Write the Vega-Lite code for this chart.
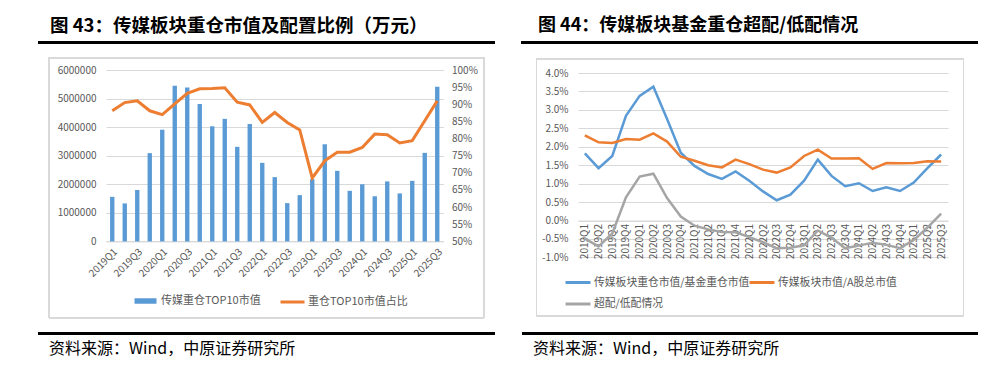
{
  "$schema": "https://vega.github.io/schema/vega-lite/v6.json",
  "background": "white",
  "padding": {"left": 36, "top": 0, "right": 0, "bottom": 0},
  "spacing": 22,
  "resolve": {"scale": {"color": "independent", "fill": "independent", "stroke": "independent", "x": "independent", "y": "independent"}, "legend": {"color": "independent", "fill": "independent", "stroke": "independent"}},
  "config": {
    "view": {"stroke": null},
    "font": "Noto Sans CJK SC",
    "axis": {"labelColor": "#595959", "labelFontSize": 10, "ticks": false, "domain": false, "gridColor": "#D9D9D9", "title": null, "labelFont": "Noto Sans CJK SC"},
    "legend": {"labelFont": "Noto Sans CJK SC", "labelColor": "#595959", "title": null, "padding": 0, "labelLimit": 400}
  },
  "hconcat": [
    {
      "spacing": 0,
      "resolve": {"scale": {"color": "independent", "fill": "independent", "stroke": "independent", "x": "independent", "y": "independent"}, "legend": {"color": "independent", "fill": "independent", "stroke": "independent"}},
      "vconcat": [
        {
          "width": 337.5, "height": 56.5,
          "data": {"values": [{"t": "图 43：传媒板块重仓市值及配置比例（万元）"}]},
          "layer": [
            {"mark": {"type": "text", "align": "left", "baseline": "middle", "fontSize": 18.5, "fontWeight": "bold", "color": "#000000"},
             "encoding": {"text": {"field": "t"},
               "x": {"datum": -56, "type": "quantitative", "scale": {"domain": [0, 337.5], "nice": false, "zero": false}, "axis": null},
               "y": {"datum": 26, "type": "quantitative", "scale": {"domain": [0, 56.5], "nice": false, "reverse": true}, "axis": null}}},
            {"mark": {"type": "rule", "strokeWidth": 3, "color": "#000000"},
             "encoding": {
               "x": {"datum": -68, "type": "quantitative"}, "x2": {"datum": 389},
               "y": {"datum": 42.5, "type": "quantitative"}}}
          ]
        },
        {
          "width": 337.5, "height": 171.4,
          "data": {"values": [
            {"q": "2019Q1", "mv": 1560000, "ratio": 0.881},
            {"q": "2019Q2", "mv": 1330000, "ratio": 0.905},
            {"q": "2019Q3", "mv": 1800000, "ratio": 0.910},
            {"q": "2019Q4", "mv": 3090000, "ratio": 0.881},
            {"q": "2020Q1", "mv": 3910000, "ratio": 0.870},
            {"q": "2020Q2", "mv": 5450000, "ratio": 0.901},
            {"q": "2020Q3", "mv": 5390000, "ratio": 0.932},
            {"q": "2020Q4", "mv": 4810000, "ratio": 0.945},
            {"q": "2021Q1", "mv": 4030000, "ratio": 0.946},
            {"q": "2021Q2", "mv": 4290000, "ratio": 0.948},
            {"q": "2021Q3", "mv": 3310000, "ratio": 0.906},
            {"q": "2021Q4", "mv": 4110000, "ratio": 0.898},
            {"q": "2022Q1", "mv": 2750000, "ratio": 0.847},
            {"q": "2022Q2", "mv": 2250000, "ratio": 0.876},
            {"q": "2022Q3", "mv": 1340000, "ratio": 0.847},
            {"q": "2022Q4", "mv": 1620000, "ratio": 0.825},
            {"q": "2023Q1", "mv": 2180000, "ratio": 0.685},
            {"q": "2023Q2", "mv": 3400000, "ratio": 0.735},
            {"q": "2023Q3", "mv": 2470000, "ratio": 0.760},
            {"q": "2023Q4", "mv": 1770000, "ratio": 0.760},
            {"q": "2024Q1", "mv": 2000000, "ratio": 0.774},
            {"q": "2024Q2", "mv": 1580000, "ratio": 0.813},
            {"q": "2024Q3", "mv": 2100000, "ratio": 0.811},
            {"q": "2024Q4", "mv": 1680000, "ratio": 0.787},
            {"q": "2025Q1", "mv": 2120000, "ratio": 0.794},
            {"q": "2025Q2", "mv": 3100000, "ratio": 0.852},
            {"q": "2025Q3", "mv": 5410000, "ratio": 0.910}
          ]},
          "layer": [
            {"mark": {"type": "rect", "filled": false, "stroke": "#D9D9D9", "strokeWidth": 1},
             "encoding": {
               "x": {"datum": -57, "type": "quantitative", "scale": {"domain": [0, 337.5], "nice": false, "zero": false}, "axis": null},
               "x2": {"datum": 378},
               "y": {"datum": -12.3, "type": "quantitative", "scale": {"domain": [0, 171.4], "nice": false, "zero": false, "reverse": true}, "axis": null},
               "y2": {"datum": 247.7}}},
            {"mark": {"type": "bar", "color": "#5B9BD5"},
             "encoding": {
               "x": {"field": "q", "type": "ordinal", "scale": {"paddingInner": 0.65, "paddingOuter": 0.325},
                 "axis": {"labelAngle": -45, "labelPadding": 5, "domain": true, "domainColor": "#D9D9D9", "grid": false,
                   "values": ["2019Q1","2019Q3","2020Q1","2020Q3","2021Q1","2021Q3","2022Q1","2022Q3","2023Q1","2023Q3","2024Q1","2024Q3","2025Q1","2025Q3"]}},
               "y": {"field": "mv", "type": "quantitative", "scale": {"domain": [0, 6000000], "nice": false},
                 "axis": {"values": [0, 1000000, 2000000, 3000000, 4000000, 5000000, 6000000], "format": "d", "grid": true, "labelPadding": 10, "minExtent": 68}},
               "fill": {"datum": "传媒重仓TOP10市值", "scale": {"range": ["#5B9BD5"]},
                 "legend": {"orient": "none", "legendX": 33, "legendY": 224.5, "symbolType": "M-2,-0.5H2V0.5H-2Z", "symbolSize": 121, "labelFontSize": 11, "labelOffset": 9}}
             }},
            {"mark": {"type": "line", "strokeWidth": 3},
             "encoding": {
               "x": {"field": "q", "type": "ordinal", "scale": {"type": "point", "padding": 0.5}, "axis": null},
               "y": {"field": "ratio", "type": "quantitative", "scale": {"domain": [0.5, 1], "nice": false},
                 "axis": {"orient": "right", "values": [0.5, 0.55, 0.6, 0.65, 0.7, 0.75, 0.8, 0.85, 0.9, 0.95, 1], "format": ".0%", "grid": false, "labelPadding": 8, "minExtent": 52}},
               "stroke": {"datum": "重仓TOP10市值占比", "scale": {"range": ["#ED7D31"]},
                 "legend": {"orient": "none", "legendX": 179, "legendY": 224.5, "symbolType": "M-2,0H2", "symbolSize": 144, "symbolStrokeWidth": 3, "labelFontSize": 11, "labelOffset": 8}}
             }}
          ],
          "resolve": {"scale": {"x": "independent", "y": "independent"}}
        },
        {
          "width": 337.5, "height": 45,
          "data": {"values": [{"t": "资料来源：Wind，中原证券研究所"}]},
          "layer": [
            {"mark": {"type": "text", "align": "left", "baseline": "middle", "fontSize": 16, "color": "#000000"},
             "encoding": {"text": {"field": "t"},
               "x": {"datum": -57, "type": "quantitative", "scale": {"domain": [0, 337.5], "nice": false, "zero": false}, "axis": null},
               "y": {"datum": 29.5, "type": "quantitative", "scale": {"domain": [0, 45], "nice": false, "reverse": true}, "axis": null}}},
            {"mark": {"type": "rule", "strokeWidth": 3, "color": "#000000"},
             "encoding": {
               "x": {"datum": -68, "type": "quantitative"}, "x2": {"datum": 389},
               "y": {"datum": 14.5, "type": "quantitative"}}}
          ]
        }
      ]
    },
    {
      "spacing": 0,
      "resolve": {"scale": {"color": "independent", "fill": "independent", "stroke": "independent", "x": "independent", "y": "independent"}, "legend": {"color": "independent", "fill": "independent", "stroke": "independent"}},
      "vconcat": [
        {
          "width": 370, "height": 57.5,
          "data": {"values": [{"t": "图 44：传媒板块基金重仓超配/低配情况"}]},
          "layer": [
            {"mark": {"type": "text", "align": "left", "baseline": "middle", "fontSize": 18, "fontWeight": "bold", "color": "#000000"},
             "encoding": {"text": {"field": "t"},
               "x": {"datum": -40, "type": "quantitative", "scale": {"domain": [0, 370], "nice": false, "zero": false}, "axis": null},
               "y": {"datum": 26, "type": "quantitative", "scale": {"domain": [0, 57.5], "nice": false, "reverse": true}, "axis": null}}},
            {"mark": {"type": "rule", "strokeWidth": 3, "color": "#000000"},
             "encoding": {
               "x": {"datum": -57, "type": "quantitative"}, "x2": {"datum": 400},
               "y": {"datum": 42.5, "type": "quantitative"}}}
          ]
        },
        {
          "width": 370, "height": 184.4,
          "data": {"values": [
            {"q": "2019Q1", "传媒板块重仓市值/基金重仓市值": 1.82, "传媒板块市值/A股总市值": 2.31, "超配/低配情况": -0.49},
            {"q": "2019Q2", "传媒板块重仓市值/基金重仓市值": 1.42, "传媒板块市值/A股总市值": 2.12, "超配/低配情况": -0.70},
            {"q": "2019Q3", "传媒板块重仓市值/基金重仓市值": 1.75, "传媒板块市值/A股总市值": 2.10, "超配/低配情况": -0.35},
            {"q": "2019Q4", "传媒板块重仓市值/基金重仓市值": 2.84, "传媒板块市值/A股总市值": 2.21, "超配/低配情况": 0.63},
            {"q": "2020Q1", "传媒板块重仓市值/基金重仓市值": 3.38, "传媒板块市值/A股总市值": 2.19, "超配/低配情况": 1.19},
            {"q": "2020Q2", "传媒板块重仓市值/基金重仓市值": 3.63, "传媒板块市值/A股总市值": 2.36, "超配/低配情况": 1.27},
            {"q": "2020Q3", "传媒板块重仓市值/基金重仓市值": 2.75, "传媒板块市值/A股总市值": 2.14, "超配/低配情况": 0.61},
            {"q": "2020Q4", "传媒板块重仓市值/基金重仓市值": 1.84, "传媒板块市值/A股总市值": 1.73, "超配/低配情况": 0.11},
            {"q": "2021Q1", "传媒板块重仓市值/基金重仓市值": 1.48, "传媒板块市值/A股总市值": 1.62, "超配/低配情况": -0.14},
            {"q": "2021Q2", "传媒板块重仓市值/基金重仓市值": 1.26, "传媒板块市值/A股总市值": 1.50, "超配/低配情况": -0.24},
            {"q": "2021Q3", "传媒板块重仓市值/基金重仓市值": 1.13, "传媒板块市值/A股总市值": 1.44, "超配/低配情况": -0.31},
            {"q": "2021Q4", "传媒板块重仓市值/基金重仓市值": 1.33, "传媒板块市值/A股总市值": 1.65, "超配/低配情况": -0.32},
            {"q": "2022Q1", "传媒板块重仓市值/基金重仓市值": 1.08, "传媒板块市值/A股总市值": 1.53, "超配/低配情况": -0.45},
            {"q": "2022Q2", "传媒板块重仓市值/基金重仓市值": 0.79, "传媒板块市值/A股总市值": 1.38, "超配/低配情况": -0.59},
            {"q": "2022Q3", "传媒板块重仓市值/基金重仓市值": 0.55, "传媒板块市值/A股总市值": 1.30, "超配/低配情况": -0.75},
            {"q": "2022Q4", "传媒板块重仓市值/基金重仓市值": 0.70, "传媒板块市值/A股总市值": 1.44, "超配/低配情况": -0.74},
            {"q": "2023Q1", "传媒板块重仓市值/基金重仓市值": 1.08, "传媒板块市值/A股总市值": 1.75, "超配/低配情况": -0.67},
            {"q": "2023Q2", "传媒板块重仓市值/基金重仓市值": 1.65, "传媒板块市值/A股总市值": 1.92, "超配/低配情况": -0.27},
            {"q": "2023Q3", "传媒板块重仓市值/基金重仓市值": 1.21, "传媒板块市值/A股总市值": 1.68, "超配/低配情况": -0.47},
            {"q": "2023Q4", "传媒板块重仓市值/基金重仓市值": 0.93, "传媒板块市值/A股总市值": 1.68, "超配/低配情况": -0.75},
            {"q": "2024Q1", "传媒板块重仓市值/基金重仓市值": 1.01, "传媒板块市值/A股总市值": 1.69, "超配/低配情况": -0.68},
            {"q": "2024Q2", "传媒板块重仓市值/基金重仓市值": 0.80, "传媒板块市值/A股总市值": 1.40, "超配/低配情况": -0.60},
            {"q": "2024Q3", "传媒板块重仓市值/基金重仓市值": 0.90, "传媒板块市值/A股总市值": 1.56, "超配/低配情况": -0.66},
            {"q": "2024Q4", "传媒板块重仓市值/基金重仓市值": 0.80, "传媒板块市值/A股总市值": 1.55, "超配/低配情况": -0.75},
            {"q": "2025Q1", "传媒板块重仓市值/基金重仓市值": 1.03, "传媒板块市值/A股总市值": 1.56, "超配/低配情况": -0.53},
            {"q": "2025Q2", "传媒板块重仓市值/基金重仓市值": 1.42, "传媒板块市值/A股总市值": 1.61, "超配/低配情况": -0.19},
            {"q": "2025Q3", "传媒板块重仓市值/基金重仓市值": 1.79, "传媒板块市值/A股总市值": 1.60, "超配/低配情况": 0.19}
          ]},
          "layer": [
            {"mark": {"type": "rect", "filled": false, "stroke": "#D9D9D9", "strokeWidth": 1},
             "encoding": {
               "x": {"datum": -41.5, "type": "quantitative", "scale": {"domain": [0, 370], "nice": false, "zero": false}, "axis": null},
               "x2": {"datum": 385.5},
               "y": {"datum": -14.3, "type": "quantitative", "scale": {"domain": [0, 184.4], "nice": false, "zero": false, "reverse": true}, "axis": null},
               "y2": {"datum": 242.7}}},
            {"transform": [{"fold": ["传媒板块重仓市值/基金重仓市值", "传媒板块市值/A股总市值", "超配/低配情况"], "as": ["series", "value"]}],
             "mark": {"type": "line", "strokeWidth": 2.5},
             "encoding": {
               "x": {"field": "q", "type": "ordinal", "scale": {"type": "point", "padding": 0.5},
                 "axis": {"labelAngle": -90, "labelPadding": 3, "offset": -36.9, "domain": true, "domainColor": "#D9D9D9", "grid": false}},
               "y": {"field": "value", "type": "quantitative", "scale": {"domain": [-1, 4], "nice": false},
                 "axis": {"values": [-1, -0.5, 0, 0.5, 1, 1.5, 2, 2.5, 3, 3.5, 4], "labelExpr": "replace(format(datum.value, '.1f'), '−', '-') + '%'", "grid": true, "labelPadding": 10, "minExtent": 57}},
               "color": {"field": "series", "type": "nominal",
                 "scale": {"domain": ["传媒板块重仓市值/基金重仓市值", "传媒板块市值/A股总市值", "超配/低配情况"], "range": ["#5B9BD5", "#ED7D31", "#A5A5A5"]},
                 "legend": {"orient": "none", "direction": "horizontal", "legendX": -8, "legendY": 201.5, "columns": 2, "rowPadding": 7.5, "columnPadding": -7, "symbolType": "M-2,0H2", "symbolSize": 156, "symbolStrokeWidth": 3, "labelFontSize": 10.8, "labelOffset": 8}}
             }}
          ],
          "resolve": {"scale": {"x": "independent", "y": "independent"}}
        },
        {
          "width": 370, "height": 45,
          "data": {"values": [{"t": "资料来源：Wind，中原证券研究所"}]},
          "layer": [
            {"mark": {"type": "text", "align": "left", "baseline": "middle", "fontSize": 16, "color": "#000000"},
             "encoding": {"text": {"field": "t"},
               "x": {"datum": -45, "type": "quantitative", "scale": {"domain": [0, 370], "nice": false, "zero": false}, "axis": null},
               "y": {"datum": 31.5, "type": "quantitative", "scale": {"domain": [0, 45], "nice": false, "reverse": true}, "axis": null}}},
            {"mark": {"type": "rule", "strokeWidth": 3, "color": "#000000"},
             "encoding": {
               "x": {"datum": -56, "type": "quantitative"}, "x2": {"datum": 400},
               "y": {"datum": 16.5, "type": "quantitative"}}}
          ]
        }
      ]
    }
  ]
}
